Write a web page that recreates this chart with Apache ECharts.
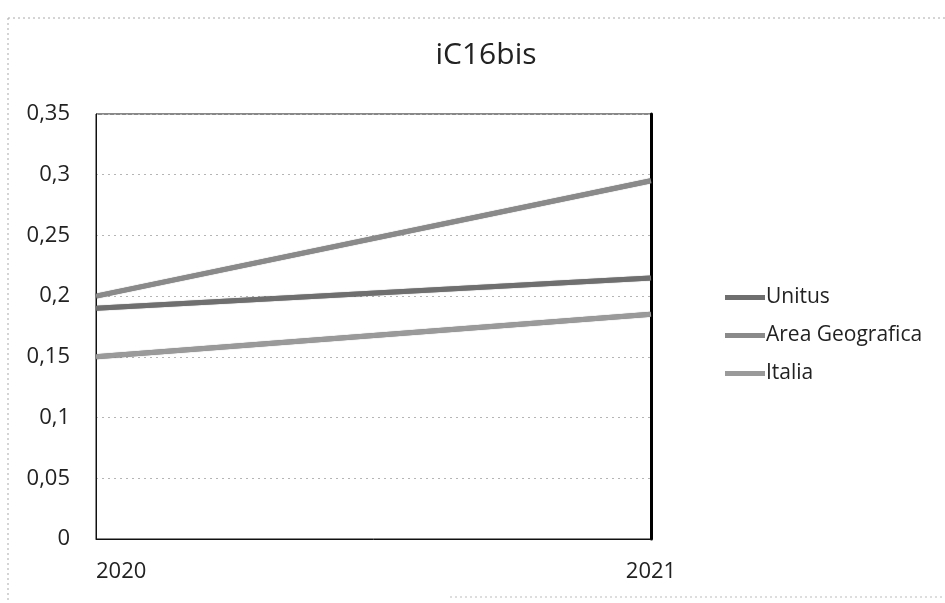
<!DOCTYPE html>
<html>
<head>
<meta charset="utf-8">
<title>iC16bis</title>
<script src="https://cdn.jsdelivr.net/npm/echarts@6/dist/echarts.min.js"></script>
<style>
  html, body { margin: 0; padding: 0; background: #fff; }
  #chart { width: 945px; height: 603px; }
</style>
</head>
<body>
<div id="chart"></div>
<script>
var anni = ['2020', '2021'];
var unitus = [0.19, 0.215];
var areaGeografica = [0.2, 0.295];
var italia = [0.15, 0.185];
var yMin = 0, yMax = 0.35, yStep = 0.05;

var myChart = echarts.init(document.getElementById('chart'));

function virgola(v) {
    return String(+v.toFixed(2)).replace('.', ',');
}

function serie(nome, dati, colore) {
    return {
        name: nome,
        type: 'line',
        data: dati,
        symbol: 'none',
        color: colore,
        lineStyle: { width: 5, color: colore, shadowColor: 'rgba(0,0,0,0.6)', shadowBlur: 1 }
    };
}

var option = {
    animation: false,
    backgroundColor: '#fff',
    textStyle: { fontFamily: 'Open Sans' },
    title: {
        text: 'iC16bis',
        left: 481,
        top: 35,
        textAlign: 'center',
        textStyle: { fontSize: 30, fontWeight: 'normal', color: '#222', fontFamily: 'Open Sans' }
    },
    grid: { left: 96, right: 294, top: 114, bottom: 64, show: true, borderColor: '#111', borderWidth: 1 },
    legend: {
        orient: 'vertical',
        left: 720,
        top: 282,
        itemGap: 17,
        itemWidth: 40,
        itemHeight: 5,
        icon: 'rect',
        textStyle: { fontSize: 21, color: '#222', padding: [0, 0, 0, -4] },
        data: ['Unitus', 'Area Geografica', 'Italia']
    },
    xAxis: {
        type: 'category',
        boundaryGap: false,
        data: anni,
        axisLine: { lineStyle: { color: '#111', width: 1 } },
        axisTick: { show: false },
        axisLabel: { fontSize: 22, color: '#222', margin: 22, alignMinLabel: 'left', alignMaxLabel: 'center' },
        splitLine: { show: false }
    },
    yAxis: [{
        type: 'value',
        min: yMin,
        max: yMax,
        interval: yStep,
        axisLine: { show: true, lineStyle: { color: '#111', width: 1 } },
        axisTick: { show: false },
        axisLabel: { fontSize: 22, color: '#222', margin: 26, formatter: virgola },
        splitLine: { lineStyle: { color: '#b5b5b5', type: [2, 4], width: 1 } }
    }, {
        type: 'value',
        position: 'right',
        min: yMin,
        max: yMax,
        interval: yStep,
        axisLine: { show: true, lineStyle: { color: '#000', width: 3 } },
        axisTick: { show: false },
        axisLabel: { show: false },
        splitLine: { show: false }
    }],
    graphic: [
        { type: 'line', shape: { x1: 8, y1: 18, x2: 945, y2: 18 }, style: { stroke: '#aaa', lineDash: [2, 3], lineWidth: 1 } },
        { type: 'line', shape: { x1: 8, y1: 18, x2: 8, y2: 603 }, style: { stroke: '#aaa', lineDash: [2, 3], lineWidth: 1 } },
        { type: 'line', shape: { x1: 450, y1: 597, x2: 945, y2: 597 }, style: { stroke: '#bbb', lineDash: [2, 3], lineWidth: 1 } }
    ],
    series: [
        serie('Unitus', unitus, '#6f6f6f'),
        serie('Area Geografica', areaGeografica, '#8a8a8a'),
        serie('Italia', italia, '#9a9a9a')
    ]
};

myChart.setOption(option);
</script>
</body>
</html>
